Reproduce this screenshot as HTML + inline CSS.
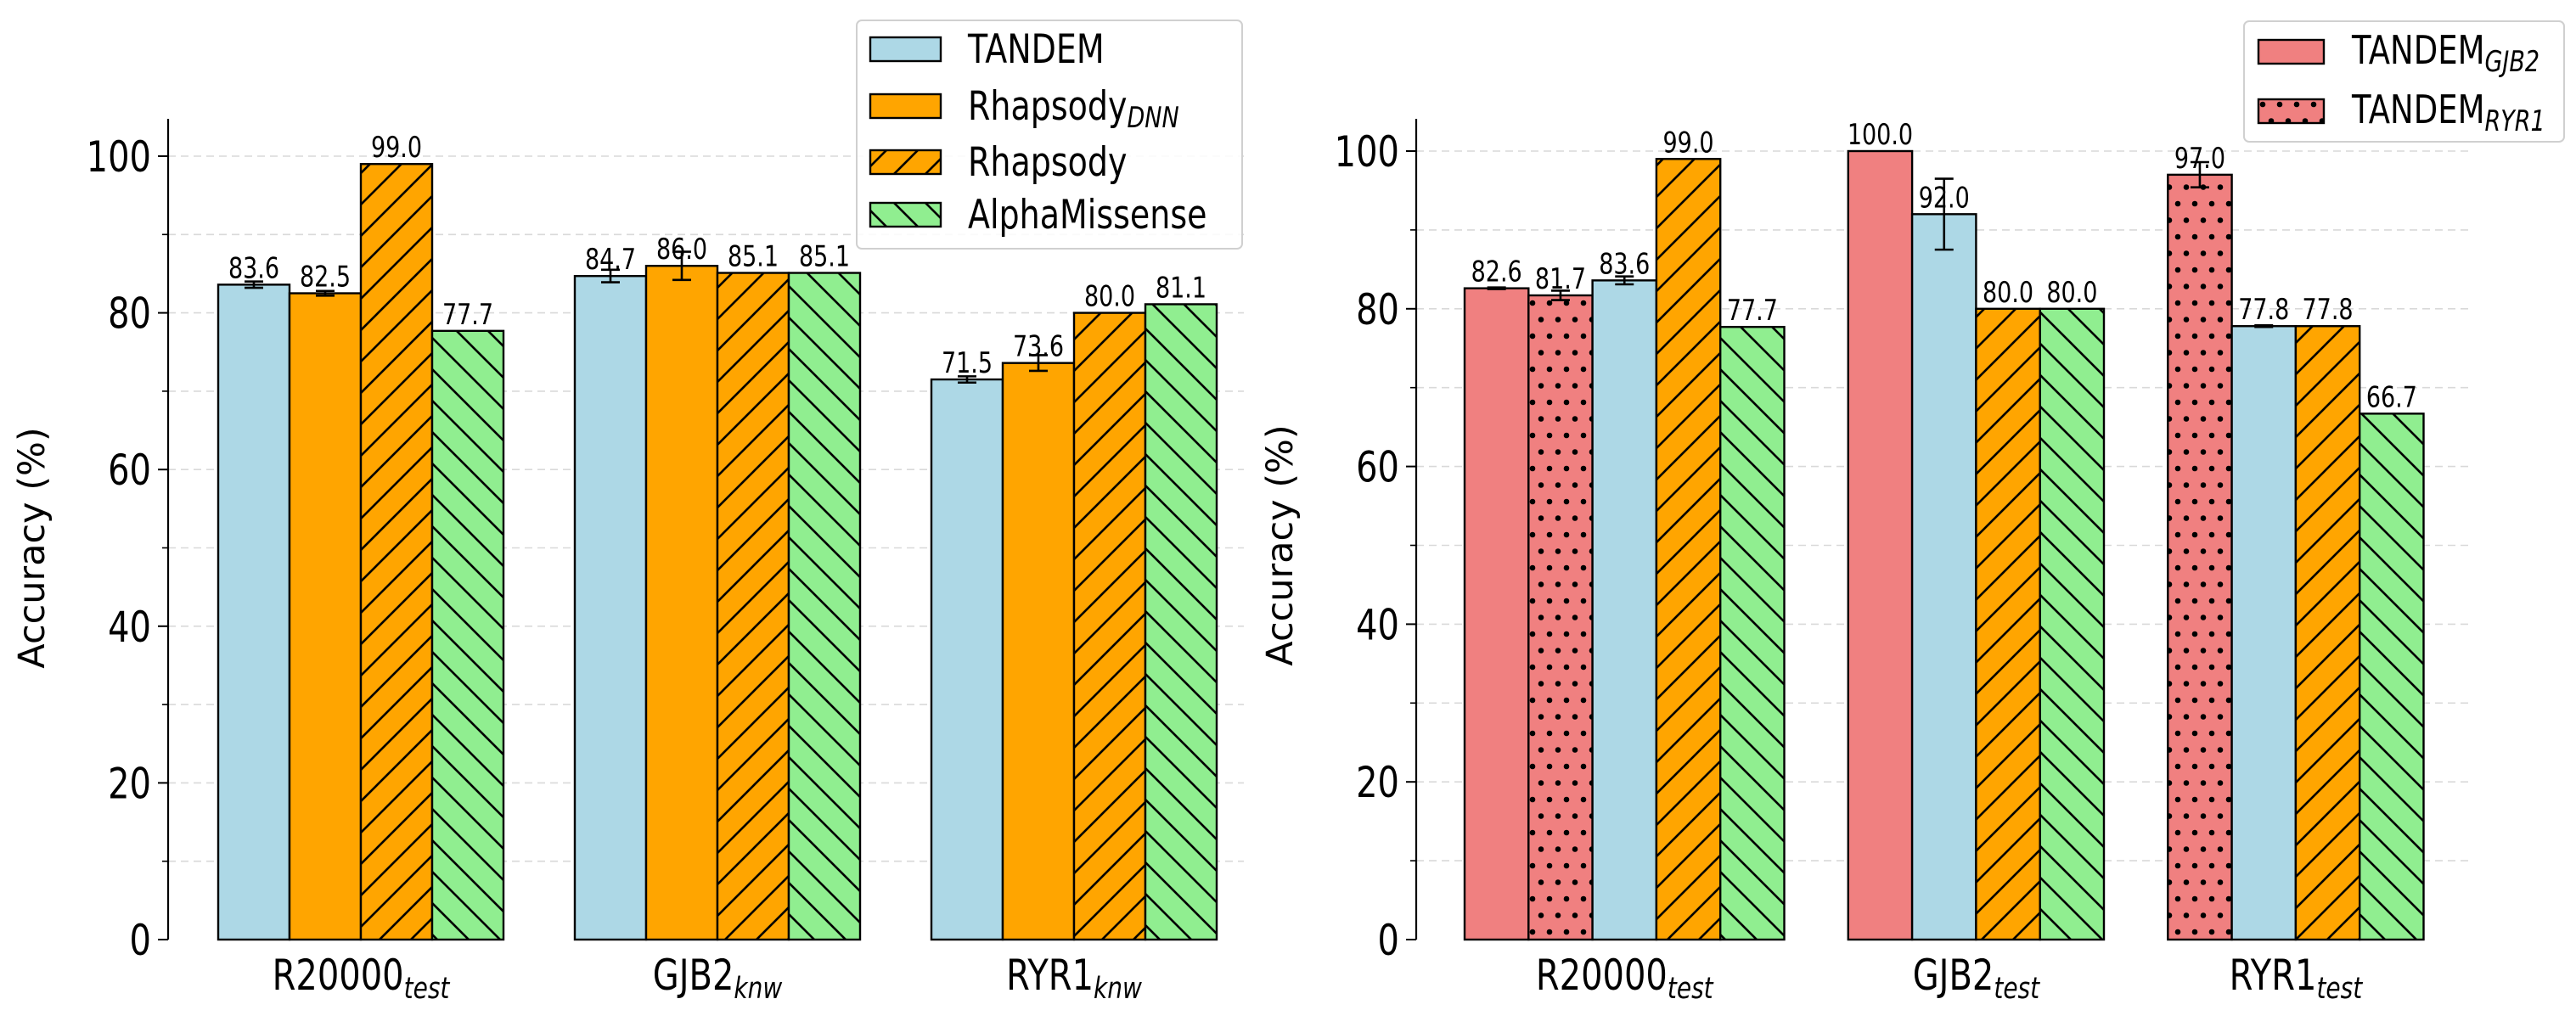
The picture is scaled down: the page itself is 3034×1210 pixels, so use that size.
<!DOCTYPE html>
<html><head><meta charset="utf-8"><style>
html,body{margin:0;padding:0;background:#fff;}
svg{display:block;font-family:"DejaVu Sans","Liberation Sans",sans-serif;}
</style></head><body>
<svg id="fig" width="3034" height="1210" viewBox="0 0 3034 1210" xmlns="http://www.w3.org/2000/svg">
<defs>
<pattern id="hFwd" patternUnits="userSpaceOnUse" width="37" height="37">
<path d="M-5,42 L42,-5 M-10,10 L10,-10 M27,47 L47,27" stroke="#000" stroke-width="2.6"/>
</pattern>
<pattern id="hBack" patternUnits="userSpaceOnUse" width="37" height="37">
<path d="M-5,-5 L42,42 M-10,27 L10,47 M27,-10 L47,10" stroke="#000" stroke-width="2.6"/>
</pattern>
<pattern id="hDots" patternUnits="userSpaceOnUse" width="20" height="39">
<circle cx="5" cy="6" r="3.3" fill="#000"/><circle cx="15" cy="25.5" r="3.3" fill="#000"/>
</pattern>
</defs>
<g id="left"></g>
<g id="right"></g>
</svg>
<script>
// ---- Left chart data
const leftCategories = ["R20000", "GJB2", "RYR1"];
const leftSubs = ["test", "knw", "knw"];
const leftSeries = ["TANDEM", "RhapsodyDNN", "Rhapsody", "AlphaMissense"];
const leftTandem = [83.6, 84.7, 71.5];
const leftTandemErr = [0.4, 0.8, 0.4];
const leftRhapDNN = [82.5, 86.0, 73.6];
const leftRhapDNNErr = [0.3, 1.8, 1.0];
const leftRhap = [99.0, 85.1, 80.0];
const leftAlpha = [77.7, 85.1, 81.1];
// ---- Right chart data
const rightCategories = ["R20000", "GJB2", "RYR1"];
const rightSubs = ["test", "test", "test"];
const rightGjb2 = [82.6, 100.0, null];
const rightGjb2Err = [0.1, 0, null];
const rightRyr1 = [81.7, null, 97.0];
const rightRyr1Err = [0.6, null, 1.6];
const rightTandem = [83.6, 92.0, 77.8];
const rightTandemErr = [0.5, 4.5, 0.1];
const rightRhap = [99.0, 80.0, 77.8];
const rightAlpha = [77.7, 80.0, 66.7];
const yTicks = [0, 20, 40, 60, 80, 100];
const yMinor = [10, 30, 50, 70, 90];

const NS = "http://www.w3.org/2000/svg";
const SX = 0.8, FS = 1.25;
function mk(parent, tag, attrs, text) {
  const e = document.createElementNS(NS, tag);
  for (const k in attrs) e.setAttribute(k, attrs[k]);
  if (text !== undefined) e.textContent = text;
  parent.appendChild(e);
  return e;
}
function txt(parent, x, y, size, anchor, content) {
  const a = {x: 0, y: 0, transform: `translate(${x},${y}) scale(${SX},1)`, "font-size": size * FS};
  if (anchor) a["text-anchor"] = anchor;
  return mk(parent, "text", a, content);
}
const STY = {
  TANDEM: {fill: "#add8e6", hatch: null},
  RhapsodyDNN: {fill: "#ffa500", hatch: null},
  Rhapsody: {fill: "#ffa500", hatch: "url(#hFwd)"},
  AlphaMissense: {fill: "#90ee90", hatch: "url(#hBack)"},
  GJB2: {fill: "#f08080", hatch: null},
  RYR1: {fill: "#f08080", hatch: "url(#hDots)"}
};

function drawAxes(g, ax) {
  const y = v => ax.y0 - (v / 100) * (ax.y0 - ax.y100);
  ax.y = y;
  yTicks.concat(yMinor).forEach(t => {
    if (t === 0) return;
    const l = mk(g, "line", {x1: ax.x0, x2: ax.xEnd, y1: y(t), y2: y(t), stroke: "#d9d9d9", "stroke-width": 1.6, "stroke-dasharray": "9,6"});
    
    
  });
  yTicks.forEach(t => {
    const tk = mk(g, "line", {x1: ax.x0 - 12, x2: ax.x0, y1: y(t), y2: y(t), stroke: "#000", "stroke-width": 2});
    
    
    const tl = txt(g, ax.x0 - 20, y(t) + 18, 40, "end", String(t));
    
    
  });
  yMinor.forEach(t => {
    const tk = mk(g, "line", {x1: ax.x0 - 7, x2: ax.x0, y1: y(t), y2: y(t), stroke: "#000", "stroke-width": 1.6});
    
    
  });
  const sp = mk(g, "line", {x1: ax.x0, x2: ax.x0, y1: ax.top, y2: ax.y0, stroke: "#000", "stroke-width": 2.2});
  
  
  const yl = mk(g, "text", {x: 0, y: 0, transform: `translate(${ax.ylabX},${(ax.y0 + ax.y100) / 2}) rotate(-90)`, "text-anchor": "middle", "font-size": 43}, "Accuracy (%)");
  
  
}

function drawBar(g, x, w, v, err, key, ax, name) {
  const s = STY[key];
  const top = ax.y(v), h = ax.y0 - top;
  const r = mk(g, "rect", {x: x, y: top, width: w, height: h, fill: s.fill});
  
  
  if (s.hatch) {
    const hr = mk(g, "rect", {x: x, y: top, width: w, height: h, fill: s.hatch});
    
    
  }
  const o = mk(g, "rect", {x: x, y: top, width: w, height: h, fill: "none", stroke: "#000", "stroke-width": 2.4});
  
  
  const cx = x + w / 2;
  if (err) {
    const e1 = ax.y(v + err), e2 = ax.y(v - err);
    const eg = mk(g, "path", {d: `M${cx},${e1} V${e2} M${cx - 11},${e1} H${cx + 11} M${cx - 11},${e2} H${cx + 11}`, stroke: "#000", "stroke-width": 2.6, fill: "none"});
    
    
  }
  const lbl = txt(g, cx, top - 8, 27, "middle", v.toFixed(1));
  
  
}

function catLabel(g, cx, y, main, sub) {
  const t = txt(g, cx, y, 40, "middle");
  
  
  mk(t, "tspan", {}, main);
  mk(t, "tspan", {"font-size": 28 * FS, "font-style": "italic", dy: 10}, sub);
}

// ---------- Left chart
(function () {
  const g = document.getElementById("left");
  const ax = {x0: 198, xEnd: 1465, y0: 1107, y100: 184, top: 140, ylabX: 52};
  drawAxes(g, ax);
  const unit = 420, c0 = 425, bw = 84;
  const xc = i => c0 + i * unit;
  const vals = [leftTandem, leftRhapDNN, leftRhap, leftAlpha];
  const errs = [leftTandemErr, leftRhapDNNErr, null, null];
  leftCategories.forEach((c, i) => {
    vals.forEach((arr, s) => {
      const x = xc(i) - 2 * bw + s * bw;
      drawBar(g, x, bw, arr[i], errs[s] ? errs[s][i] : 0, leftSeries[s], ax, "bar-" + leftSeries[s].toLowerCase() + "-" + c.toLowerCase());
    });
    catLabel(g, xc(i), 1166, c, leftSubs[i]);
  });
  const lg = mk(g, "g", {});
  
  
  mk(lg, "rect", {x: 1009, y: 24, width: 454, height: 269, rx: 6, fill: "#fff", "fill-opacity": 0.85, stroke: "#d0d0d0", "stroke-width": 2});
  const rowsY = [44, 111, 177, 239];
  const labs = [["TANDEM", ""], ["Rhapsody", "DNN"], ["Rhapsody", ""], ["AlphaMissense", ""]];
  leftSeries.forEach((k, i) => {
    const e = mk(lg, "g", {});
    
    
    const s = STY[k];
    mk(e, "rect", {x: 1025, y: rowsY[i], width: 83, height: 28, fill: s.fill});
    if (s.hatch) mk(e, "rect", {x: 1025, y: rowsY[i], width: 83, height: 28, fill: s.hatch});
    mk(e, "rect", {x: 1025, y: rowsY[i], width: 83, height: 28, fill: "none", stroke: "#000", "stroke-width": 2.4});
    const t = txt(e, 1140, rowsY[i] + 30, 38, null);
    mk(t, "tspan", {}, labs[i][0]);
    if (labs[i][1]) mk(t, "tspan", {"font-size": 27 * FS, "font-style": "italic", dy: 9}, labs[i][1]);
  });
})();

// ---------- Right chart
(function () {
  const g = document.getElementById("right");
  const ax = {x0: 1668, xEnd: 2912, y0: 1107, y100: 178, top: 140, ylabX: 1522};
  drawAxes(g, ax);
  const bw = 75.3, start = 1725;
  const series = [
    {key: "GJB2", vals: rightGjb2, errs: rightGjb2Err},
    {key: "RYR1", vals: rightRyr1, errs: rightRyr1Err},
    {key: "TANDEM", vals: rightTandem, errs: rightTandemErr},
    {key: "Rhapsody", vals: rightRhap, errs: null},
    {key: "AlphaMissense", vals: rightAlpha, errs: null}
  ];
  let slot = 0;
  rightCategories.forEach((c, i) => {
    const first = slot;
    series.forEach(s => {
      const v = s.vals[i];
      if (v === null || v === undefined) return;
      drawBar(g, start + slot * bw, bw, v, s.errs ? s.errs[i] : 0, s.key, ax, "bar-" + s.key.toLowerCase() + "-" + c.toLowerCase());
      slot++;
    });
    const cx = start + (first + slot) / 2 * bw;
    catLabel(g, cx, 1166, c, rightSubs[i]);
    slot++;
  });
  const lg = mk(g, "g", {});
  
  
  mk(lg, "rect", {x: 2643, y: 25, width: 377, height: 142, rx: 6, fill: "#fff", "fill-opacity": 0.85, stroke: "#d0d0d0", "stroke-width": 2});
  const rows = [["GJB2", 47], ["RYR1", 117]];
  rows.forEach(([k, yy]) => {
    const e = mk(lg, "g", {});
    
    
    const s = STY[k];
    mk(e, "rect", {x: 2660, y: yy, width: 77, height: 28, fill: s.fill});
    if (s.hatch) mk(e, "rect", {x: 2660, y: yy, width: 77, height: 28, fill: s.hatch});
    mk(e, "rect", {x: 2660, y: yy, width: 77, height: 28, fill: "none", stroke: "#000", "stroke-width": 2.4});
    const t = txt(e, 2770, yy + 28, 37, null);
    mk(t, "tspan", {}, "TANDEM");
    mk(t, "tspan", {"font-size": 27 * FS, "font-style": "italic", dy: 9}, k);
  });
})();
</script>
</body></html>
